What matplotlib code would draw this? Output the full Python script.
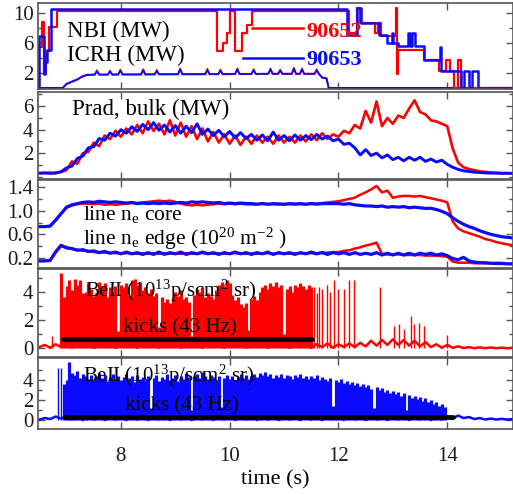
import numpy as np
import matplotlib
matplotlib.use("Agg")
import matplotlib.pyplot as plt

plt.rcParams['font.family'] = ['Liberation Serif', 'DejaVu Serif']
plt.rcParams['mathtext.fontset'] = 'custom'
plt.rcParams['mathtext.rm'] = 'Liberation Serif'
plt.rcParams['mathtext.it'] = 'Liberation Serif:italic'

RED = '#ff0000'
BLUE = '#0a0aff'

# ---- data ----------------------------------------------------------------
# shared 0.1 s sampling for the noisy traces (6.5 ... 15.2 s)
t_grid = np.round(np.arange(6.5, 15.2001, 0.1), 2)

# NBI power (MW), step changes: (time, level)
nbi_red_t = [6.47, 6.50, 6.55, 6.59, 6.63, 6.67, 6.82, 9.77, 9.88, 9.95, 10.01, 10.10,
             10.23, 10.32, 10.41, 12.20, 12.35, 12.40, 12.68, 12.73, 12.78, 13.05, 13.08,
             13.10, 13.57, 13.85, 13.97, 14.05, 14.13, 14.19, 14.25, 15.2]
nbi_red = [0.0, 5.5, 8.8, 1.8, 5.0, 8.2, 10.25, 4.9, 6.0, 7.3, 10.25, 4.9,
           7.3, 8.4, 10.25, 7.3, 10.7, 8.7, 7.3, 8.7, 6.9, 10.7, 1.8,
           5.1, 3.8, 2.2, 3.8, 2.2, 0.0, 3.7, 0.0, 0.0]
nbi_blue_t = [6.47, 6.49, 6.59, 6.61, 6.64, 6.72, 12.16, 12.35, 12.42, 12.74, 12.90,
              12.98, 13.00, 13.10, 13.27, 13.31, 13.36, 13.40, 13.57, 13.86, 13.89,
              14.25, 14.31, 14.40, 14.46, 14.56, 15.2]
nbi_blue = [0.0, 6.9, 1.8, 3.5, 5.1, 10.55, 7.1, 10.7, 8.7, 7.1, 6.0,
            7.3, 6.0, 5.55, 7.3, 5.55, 7.3, 5.55, 3.8, 5.5, 2.2,
            0.0, 2.2, 0.0, 2.2, 0.0, 0.0]

# ICRH power (MW): ramp, flat top with small bumps, switch-off
icrh_t = [6.47, 6.93, 7.00, 7.10, 7.20, 7.28, 7.37,
          7.52, 7.56, 7.60, 7.76, 7.80, 7.84, 7.95, 7.99, 8.03,
          8.37, 8.41, 8.45, 8.62, 8.66, 8.70, 9.05, 9.09, 9.13,
          9.55, 9.59, 9.63, 9.79, 9.83, 9.87, 10.10, 10.14, 10.18,
          10.40, 10.44, 10.48, 10.71, 10.75, 10.79, 10.89, 10.93, 10.97,
          11.14, 11.18, 11.22, 11.29, 11.33, 11.37, 11.56, 11.60, 11.64,
          11.70, 11.78, 11.82, 15.2]
icrh_blue = [0.0, 0.0, 0.55, 0.85, 1.15, 1.5, 1.75,
             1.80, 2.25, 1.80, 1.80, 2.20, 1.80, 1.82, 2.30, 1.82,
             1.82, 2.35, 1.82, 1.84, 2.25, 1.84, 1.85, 2.45, 1.85,
             1.86, 2.35, 1.86, 1.86, 2.30, 1.86, 1.88, 2.45, 1.88,
             1.88, 2.35, 1.88, 1.90, 2.45, 1.90, 1.90, 2.30, 1.90,
             1.90, 2.55, 1.90, 1.90, 2.45, 1.90, 1.90, 2.35, 1.90,
             1.40, 1.30, 0.0, 0.0]
icrh_red = [0.0, 0.0, 0.5, 0.8, 1.1, 1.45, 1.70,
            1.75, 2.35, 1.75, 1.75, 2.30, 1.75, 1.77, 2.45, 1.77,
            1.77, 2.50, 1.77, 1.79, 2.40, 1.79, 1.80, 2.60, 1.80,
            1.81, 2.55, 1.81, 1.81, 2.45, 1.81, 1.83, 2.60, 1.83,
            1.83, 2.50, 1.83, 1.85, 2.60, 1.85, 1.85, 2.45, 1.85,
            1.85, 2.70, 1.85, 1.85, 2.60, 1.85, 1.85, 2.50, 1.85,
            1.35, 1.25, 0.0, 0.0]

# bulk radiated power (MW)
prad_red = [0.30, 0.30, 0.33, 0.28, 0.40, 0.55, 1.30, 1.10, 2.00, 2.10,
            2.90, 2.60, 3.50, 3.20, 3.90, 3.40, 4.10, 3.60, 4.40, 3.70,
            4.70, 3.90, 4.50, 3.60, 4.80, 3.50, 4.60, 3.40, 4.30, 3.20,
            4.10, 3.00, 3.80, 2.90, 3.60, 2.80, 3.50, 2.70, 3.40, 2.80,
            3.50, 2.90, 3.40, 2.80, 3.50, 2.90, 3.40, 2.90, 3.50, 3.00,
            3.60, 3.10, 3.70, 3.20, 3.60, 3.40, 3.90, 3.70, 4.40, 4.10,
            5.60, 4.60, 6.40, 4.30, 5.00, 4.50, 5.20, 5.00, 5.80, 6.50,
            5.50, 5.30, 4.80, 4.70, 4.50, 4.30, 2.40, 1.20, 0.80, 0.65,
            0.55, 0.45, 0.40, 0.36, 0.33, 0.30, 0.30, 0.28]
prad_blue = [0.30, 0.32, 0.28, 0.33, 0.42, 0.75, 0.90, 1.55, 1.75, 2.45,
             2.55, 3.25, 3.10, 3.70, 3.45, 4.00, 3.70, 4.25, 3.85, 4.45,
             4.00, 4.60, 3.95, 4.40, 3.80, 4.35, 3.70, 4.30, 3.75, 4.50,
             3.60, 4.05, 3.50, 3.95, 3.40, 3.85, 3.30, 3.75, 3.25, 3.60,
             3.10, 3.55, 3.05, 3.80, 3.10, 3.50, 3.05, 3.55, 3.10, 3.50,
             3.15, 3.60, 3.20, 3.45, 3.05, 3.20, 2.75, 2.85, 2.45, 1.85,
             2.30, 1.80, 2.00, 1.60, 1.85, 1.45, 1.65, 1.35, 1.65, 1.40,
             1.65, 1.30, 1.50, 1.25, 1.40, 1.05, 0.80, 0.62, 0.50, 0.44,
             0.38, 0.35, 0.32, 0.30, 0.30, 0.28, 0.29, 0.28]

# line integrated density (1e20 m^-2)
ne_core_red = [0.73, 0.73, 0.74, 0.84, 0.95, 1.05, 1.09, 1.11, 1.12, 1.12,
               1.11, 1.12, 1.10, 1.11, 1.10, 1.11, 1.12, 1.13, 1.13, 1.14,
               1.15, 1.16, 1.17, 1.16, 1.17, 1.15, 1.12, 1.10, 1.09, 1.10,
               1.09, 1.10, 1.11, 1.12, 1.11, 1.12, 1.11, 1.12, 1.11, 1.11,
               1.11, 1.12, 1.11, 1.11, 1.12, 1.11, 1.11, 1.12, 1.11, 1.11,
               1.12, 1.12, 1.13, 1.14, 1.15, 1.16, 1.18, 1.20, 1.22, 1.27,
               1.31, 1.36, 1.42, 1.31, 1.34, 1.22, 1.24, 1.25, 1.25, 1.24,
               1.25, 1.23, 1.21, 1.19, 1.17, 1.14, 0.82, 0.70, 0.65, 0.62,
               0.59, 0.56, 0.52, 0.50, 0.47, 0.45, 0.43, 0.42]
ne_core_blue = [0.73, 0.73, 0.74, 0.84, 0.95, 1.06, 1.10, 1.12, 1.14, 1.15,
                1.14, 1.16, 1.15, 1.14, 1.15, 1.14, 1.13, 1.14, 1.12, 1.13,
                1.12, 1.13, 1.12, 1.13, 1.12, 1.13, 1.14, 1.13, 1.15, 1.14,
                1.15, 1.14, 1.13, 1.14, 1.12, 1.13, 1.12, 1.13, 1.12, 1.12,
                1.11, 1.12, 1.11, 1.12, 1.11, 1.11, 1.12, 1.11, 1.12, 1.11,
                1.12, 1.11, 1.12, 1.12, 1.12, 1.12, 1.11, 1.12, 1.10, 1.09,
                1.08, 1.08, 1.07, 1.08, 1.06, 1.07, 1.06, 1.07, 1.05, 1.06,
                1.05, 1.04, 1.04, 1.02, 0.99, 0.95, 0.88, 0.82, 0.77, 0.73,
                0.70, 0.66, 0.63, 0.60, 0.58, 0.56, 0.55, 0.54]
ne_edge_red = [0.15, 0.15, 0.16, 0.31, 0.42, 0.38, 0.35, 0.34, 0.32, 0.32,
               0.30, 0.30, 0.29, 0.29, 0.28, 0.28, 0.28, 0.28, 0.27, 0.28,
               0.27, 0.28, 0.27, 0.28, 0.27, 0.28, 0.27, 0.28, 0.27, 0.28,
               0.28, 0.28, 0.27, 0.28, 0.27, 0.28, 0.28, 0.28, 0.27, 0.28,
               0.27, 0.28, 0.28, 0.27, 0.28, 0.28, 0.27, 0.28, 0.28, 0.28,
               0.28, 0.28, 0.29, 0.29, 0.30, 0.30, 0.32, 0.33, 0.36, 0.38,
               0.41, 0.43, 0.46, 0.27, 0.26, 0.26, 0.26, 0.25, 0.25, 0.25,
               0.25, 0.24, 0.24, 0.24, 0.23, 0.22, 0.14, 0.12, 0.12, 0.12,
               0.11, 0.11, 0.11, 0.11, 0.10, 0.10, 0.10, 0.10]
ne_edge_blue = [0.15, 0.15, 0.16, 0.30, 0.41, 0.37, 0.36, 0.33, 0.34, 0.31,
                0.32, 0.29, 0.31, 0.28, 0.30, 0.27, 0.30, 0.27, 0.29, 0.26,
                0.29, 0.26, 0.30, 0.26, 0.29, 0.27, 0.30, 0.26, 0.29, 0.27,
                0.30, 0.27, 0.29, 0.26, 0.29, 0.27, 0.30, 0.27, 0.29, 0.26,
                0.29, 0.27, 0.30, 0.26, 0.29, 0.27, 0.29, 0.26, 0.29, 0.27,
                0.30, 0.27, 0.29, 0.26, 0.29, 0.27, 0.29, 0.26, 0.29, 0.26,
                0.28, 0.26, 0.29, 0.25, 0.28, 0.25, 0.28, 0.25, 0.28, 0.25,
                0.28, 0.26, 0.28, 0.25, 0.27, 0.24, 0.19, 0.17, 0.21, 0.15,
                0.13, 0.12, 0.12, 0.11, 0.11, 0.11, 0.10, 0.10]

# BeII emission (1e13 p/s cm2 sr): background level on t_grid
be_base_red = [0.10, 0.25, 0.05, 0.30, 0.10, 0.35, 0.05, 0.30, 0.10, 0.35,
               0.05, 0.30, 0.10, 0.35, 0.05, 0.30, 0.10, 0.35, 0.05, 0.30,
               0.10, 0.35, 0.05, 0.30, 0.10, 0.35, 0.05, 0.30, 0.10, 0.35,
               0.05, 0.30, 0.10, 0.35, 0.05, 0.30, 0.10, 0.35, 0.05, 0.30,
               0.10, 0.35, 0.05, 0.30, 0.10, 0.35, 0.05, 0.30, 0.10, 0.35,
               0.05, 0.30, 0.10, 0.35, 0.05, 0.30, 0.10, 0.35, 0.10, 0.40,
               0.15, 0.55, 0.20, 0.60, 0.25, 0.65, 0.25, 0.60, 0.20, 0.55,
               0.15, 0.45, 0.10, 0.30, 0.05, 0.25, 0.05, 0.15, 0.03, 0.10,
               0.02, 0.08, 0.02, 0.07, 0.02, 0.06, 0.02, 0.05]
be_base_blue = [0.05, 0.20, 0.10, 0.35, 0.15, 0.40, 0.05, 0.35, 0.00, 0.35,
                0.05, 0.40, 0.00, 0.35, 0.05, 0.40, 0.00, 0.35, 0.05, 0.40,
                0.00, 0.35, 0.05, 0.40, 0.00, 0.35, 0.05, 0.40, 0.00, 0.35,
                0.05, 0.40, 0.00, 0.35, 0.05, 0.40, 0.00, 0.35, 0.05, 0.40,
                0.00, 0.35, 0.05, 0.40, 0.00, 0.35, 0.05, 0.40, 0.00, 0.35,
                0.05, 0.40, 0.00, 0.35, 0.05, 0.40, 0.00, 0.35, 0.05, 0.40,
                0.00, 0.35, 0.05, 0.40, 0.00, 0.35, 0.05, 0.40, 0.00, 0.35,
                0.05, 0.40, 0.00, 0.35, 0.05, 0.35, 0.15, 0.45, 0.20, 0.30,
                0.10, 0.20, 0.05, 0.15, 0.05, 0.12, 0.05, 0.10]

# BeII kick spikes, dense part every 0.05 s
spk_red_t = np.round(np.arange(6.90, 11.5001, 0.05), 2)
spk_red = [5.3, 3.6, 4.4, 4.8, 4.1, 4.9, 4.5, 4.8, 3.9, 4.0,
           4.6, 4.2, 3.7, 3.9, 4.7, 4.4, 4.6, 3.6, 4.3, 4.0,
           4.4, 1.2, 4.5, 4.3, 4.6, 3.8, 4.8, 4.9, 4.5, 4.7,
           4.1, 4.3, 3.9, 4.2, 3.7, 3.9, 1.5, 3.6, 3.3, 3.5,
           3.2, 3.6, 4.0, 3.7, 4.1, 3.5, 3.6, 3.3, 0.9, 3.8,
           4.2, 4.0, 4.3, 3.6, 3.9, 3.7, 3.5, 4.1, 4.5, 4.7,
           4.4, 4.8, 4.6, 3.8, 3.4, 3.6, 3.1, 2.9, 3.2, 1.3,
           3.5, 3.7, 3.4, 4.0, 4.3, 4.5, 4.2, 4.6, 4.4, 4.7,
           4.3, 4.5, 1.0, 4.2, 4.4, 4.0, 4.5, 4.3, 4.6, 4.4,
           4.2, 4.5, 4.3]
spk_blue_t = np.round(np.arange(6.95, 13.9501, 0.05), 2)
spk_blue = [3.6, 4.0, 5.8, 4.7, 4.5, 4.9, 4.2, 4.6, 4.4, 4.1,
            4.5, 4.0, 4.4, 4.7, 4.2, 4.5, 3.9, 4.3, 4.6, 4.1,
            4.4, 4.0, 4.3, 4.6, 4.2, 4.4, 3.8, 4.5, 4.1, 4.3,
            4.0, 4.4, 1.2, 4.2, 4.5, 3.9, 4.3, 4.1, 4.6, 4.0,
            4.2, 4.5, 3.9, 4.4, 4.1, 4.7, 4.3, 1.0, 4.4, 4.6,
            4.2, 4.8, 4.4, 4.1, 4.5, 4.3, 4.0, 4.4, 1.3, 4.2,
            4.5, 4.1, 4.4, 4.0, 4.3, 4.6, 4.2, 4.5, 4.1, 4.4,
            4.6, 4.3, 4.7, 4.5, 4.8, 4.4, 4.6, 4.2, 4.5, 4.3,
            4.6, 4.2, 4.5, 4.4, 4.1, 4.5, 4.3, 4.6, 4.2, 4.4,
            4.1, 4.4, 4.2, 4.5, 4.0, 4.3, 4.1, 3.9, 4.2, 1.4,
            4.0, 3.8, 4.1, 3.7, 3.9, 3.6, 3.8, 3.5, 3.7, 3.4,
            3.6, 3.3, 3.5, 3.1, 1.2, 3.3, 3.0, 3.2, 2.8, 3.0,
            2.7, 2.9, 2.6, 2.8, 2.4, 2.7, 1.0, 2.5, 2.2, 2.4,
            2.1, 2.3, 1.9, 2.2, 1.8, 2.0, 1.6, 1.8, 1.4, 1.6,
            1.3]
# isolated spikes
iso_red_t = [6.73, 11.55, 11.60, 11.64, 11.70, 11.79, 11.85, 11.91, 12.00, 12.10,
             12.19, 12.29, 12.77, 13.02, 13.11, 13.20, 13.33, 13.39, 13.48, 13.57, 14.00]
iso_red = [0.9, 4.3, 3.9, 4.35, 4.2, 4.5, 4.0, 4.8, 4.2, 4.2,
           4.8, 4.8, 4.35, 1.6, 1.7, 1.4, 2.3, 1.7, 1.8, 1.6, 0.95]
iso_blue_t = [6.85, 6.90]
iso_blue = [5.2, 5.2]

# kick windows (43 Hz): start, end, level
kick_red = [6.94, 11.52, 0.66]
kick_blue = [6.97, 14.10, 0.33]

# ---- figure ---------------------------------------------------------------
W_PX, H_PX = 513, 495
fig = plt.figure(figsize=(W_PX / 100, H_PX / 100), dpi=100)
L = 37.7 / W_PX
WID = 474.8 / W_PX


def panel(top, bot):
    return fig.add_axes([L, 1 - bot / H_PX, WID, (bot - top) / H_PX])


def style(ax, ylim, major, minor):
    ax.set_xlim(6.47, 15.2)
    ax.set_ylim(*ylim)
    ax.set_xticks([8, 10, 12, 14])
    ax.set_yticks(major)
    ax.set_yticks(minor, minor=True)
    ax.tick_params(which='both', direction='in', top=True, right=True,
                   color='#555555', labelcolor='#1a1a1a', labelsize=15, pad=3)
    ax.tick_params(which='major', length=5, width=1.0)
    ax.tick_params(which='minor', length=3, width=1.0)
    ax.tick_params(axis='x', labelbottom=False)
    for s in ax.spines.values():
        s.set_color('#555555')
        s.set_linewidth(1.2)


ax1 = panel(3.3, 89.0)
ax2 = panel(91.5, 179.0)
ax3 = panel(180.0, 268.0)
ax4 = panel(269.0, 357.0)
ax5 = panel(358.3, 429.3)

# NBI / ICRH
ax1.plot(icrh_t, icrh_red, color=RED, lw=1.3)
ax1.plot(icrh_t, icrh_blue, color=BLUE, lw=1.3)
ax1.plot(nbi_red_t, nbi_red, color=RED, lw=1.6, drawstyle='steps-post')
ax1.plot(nbi_blue_t, nbi_blue, color=BLUE, lw=1.8, drawstyle='steps-post')
style(ax1, (-0.15, 11.33), [2, 6, 10], [0, 4, 8])
ax1.text(0.062, 0.67, 'NBI (MW)', transform=ax1.transAxes, fontsize=16.5, va='center')
ax1.text(0.062, 0.39, 'ICRH (MW)', transform=ax1.transAxes, fontsize=16.5, va='center')
ax1.plot([0.452, 0.559], [0.706, 0.706], color=RED, lw=1.8, transform=ax1.transAxes)
ax1.plot([0.433, 0.559], [0.365, 0.365], color=BLUE, lw=1.8, transform=ax1.transAxes)
ax1.text(0.565, 0.66, '90652', transform=ax1.transAxes, fontsize=16, color=RED,
         fontweight='bold', va='center')
ax1.text(0.566, 0.34, '90653', transform=ax1.transAxes, fontsize=16, color=BLUE,
         fontweight='bold', va='center')

# Prad
ax2.plot(t_grid, prad_red, color=RED, lw=1.9)
ax2.plot(t_grid, prad_blue, color=BLUE, lw=2.1)
style(ax2, (-0.2, 7.25), [2, 4, 6], [0, 1, 3, 5, 7])
ax2.text(0.072, 0.79, 'Prad, bulk (MW)', transform=ax2.transAxes, fontsize=16.5, va='center')

# line density
ax3.plot(t_grid, ne_core_red, color=RED, lw=1.8)
ax3.plot(t_grid, ne_edge_red, color=RED, lw=1.8)
ax3.plot(t_grid, ne_core_blue, color=BLUE, lw=2.3)
ax3.plot(t_grid, ne_edge_blue, color=BLUE, lw=2.3)
style(ax3, (0.03, 1.52), [0.2, 0.6, 1.0, 1.4], [0.4, 0.8, 1.2])
ax3.set_yticklabels(['0.2', '0.6', '1.0', '1.4'])
ax3.text(0.096, 0.61, r'line n$_\mathrm{e}$ core', transform=ax3.transAxes,
         fontsize=15.5, va='center')
ax3.text(0.096, 0.33, r'line n$_\mathrm{e}$ edge (10$^{20}$ m$^{-2}$ )',
         transform=ax3.transAxes, fontsize=15.5, va='center')

# BeII 90652
ax4.vlines(spk_red_t, 0.05, spk_red, color=RED, lw=2.3)
ax4.vlines(iso_red_t, 0.05, iso_red, color=RED, lw=1.0)
ax4.plot(t_grid, be_base_red, color=RED, lw=1.8)
ax4.plot(kick_red[:2], [kick_red[2]] * 2, color='black', lw=3.4, solid_capstyle='round')
style(ax4, (-0.6, 5.6), [0, 2, 4], [1, 3, 5])
ax4.text(0.1, 0.75, r'BeII (10$^{13}$p/scm$^{2}$ sr)', transform=ax4.transAxes,
         fontsize=15, va='center')
ax4.text(0.18, 0.335, 'kicks (43 Hz)', transform=ax4.transAxes, fontsize=15, va='center')

# BeII 90653
ax5.vlines(spk_blue_t, 0.05, spk_blue, color=BLUE, lw=2.3)
ax5.vlines(iso_blue_t, 0.05, iso_blue, color=BLUE, lw=1.0)
ax5.plot(t_grid, be_base_blue, color=BLUE, lw=1.8)
ax5.plot(kick_blue[:2], [kick_blue[2]] * 2, color='black', lw=3.4, solid_capstyle='round')
style(ax5, (-0.93, 6.2), [0, 2, 4], [1, 3, 5])
ax5.tick_params(axis='x', labelbottom=True, pad=13)
ax5.set_xlabel('time (s)', fontsize=16, labelpad=3)
ax5.text(0.096, 0.755, r'BeII (10$^{13}$p/scm$^{2}$ sr)', transform=ax5.transAxes,
         fontsize=15, va='center')
ax5.text(0.184, 0.335, 'kicks (43 Hz)', transform=ax5.transAxes, fontsize=15, va='center')

fig.savefig('out.png', dpi=100)
